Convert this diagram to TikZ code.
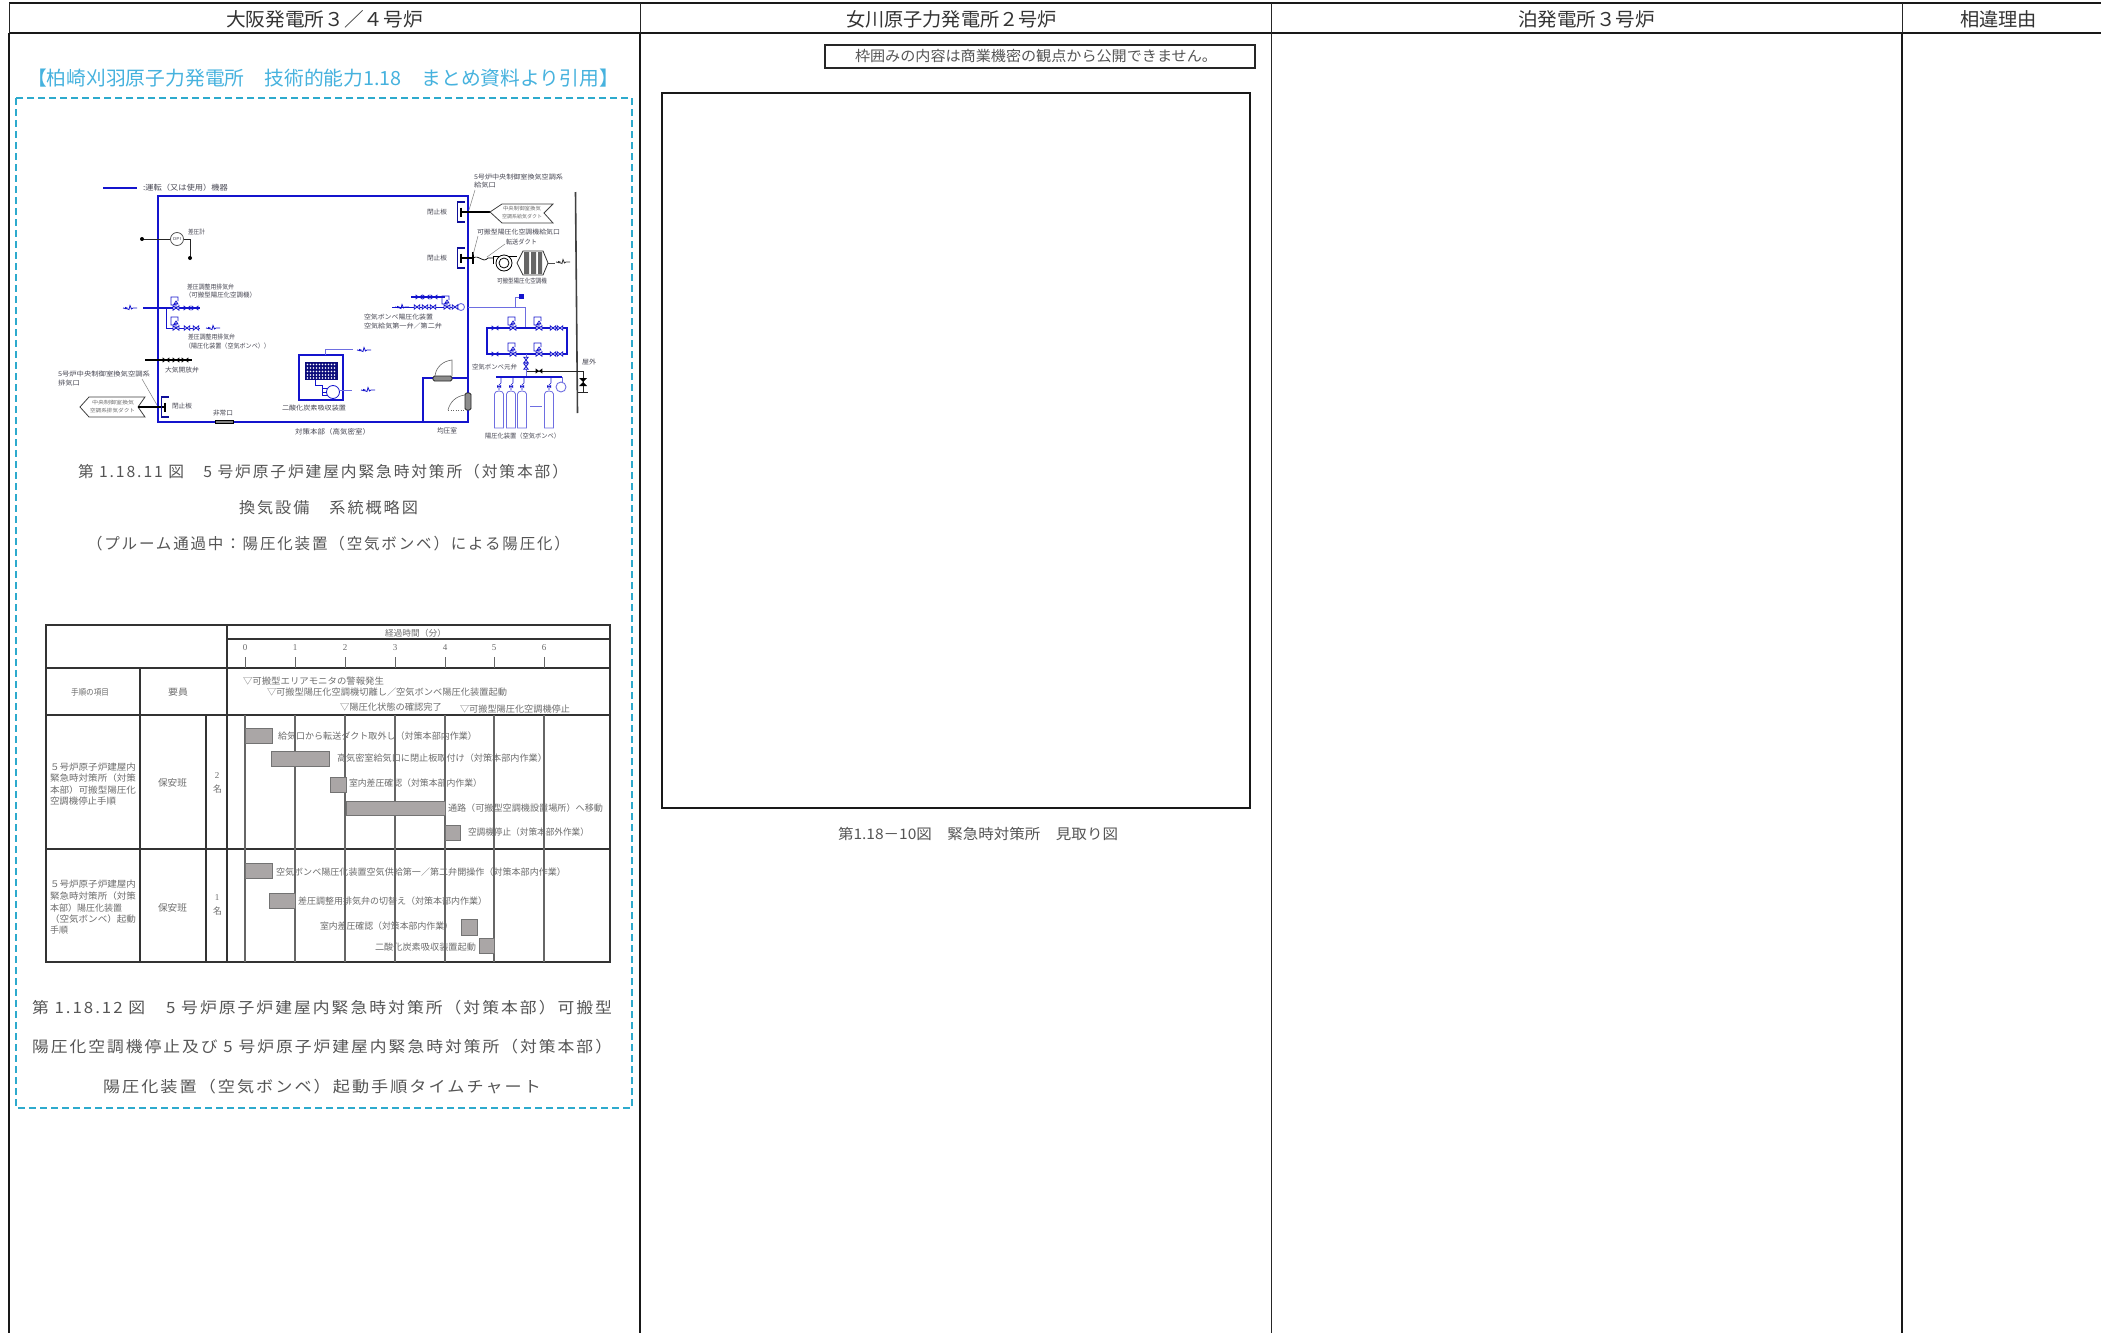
\documentclass[tikz,border=0pt]{standalone}
\usepackage{fontspec}
\usepackage{graphicx}
\setmainfont{Noto Sans CJK JP}
\newfontfamily\latf{Liberation Serif}
\definecolor{vblue}{RGB}{20,20,205}
\definecolor{lblue}{RGB}{110,110,225}
\definecolor{cyant}{RGB}{70,178,222}
\definecolor{cyand}{RGB}{45,170,205}
\definecolor{barf}{RGB}{170,166,166}
\definecolor{capt}{RGB}{85,85,85}
\definecolor{tinyc}{RGB}{108,108,108}
\definecolor{schem}{RGB}{70,70,82}
\newcount\tcnt
% colour, x1, x2, y, size, text : text fitted between x1 and x2 around height y
\newcommand\tx[6][capt]{\global\advance\tcnt by 1
  \node[txtbox,text=#1] (t\the\tcnt) at (#2,#4) {\resizebox{\dimexpr #3pt-#2pt\relax}{\height}{\fontsize{#5}{#5}\selectfont #6}};}
\newcommand\lsp{\addfontfeature{LetterSpace=12}}
\tikzset{
  txtbox/.style={anchor=west,inner sep=0pt,outer sep=0pt},
  tline/.style={line width=1.4pt,color=black!80},
  gridthick/.style={line width=2.2pt,color=black!90},
  gridthin/.style={line width=1pt,color=black!85},
  tickl/.style={line width=1pt,color=black!60},
  bar/.style={fill=barf,draw=black!55,line width=0.7pt},
  vb/.style={vblue,line width=1.2pt},
  vbl/.style={lblue,line width=0.9pt},
  wall/.style={vblue,line width=1.9pt},
  blk/.style={black!85,line width=0.9pt},
  lead/.style={black!50,line width=0.5pt},
  bowf/.pic={\fill[pic actions] (-3.4,-2.6)--(3.4,2.6)--(3.4,-2.6)--(-3.4,2.6)--cycle;},
  bowo/.pic={\filldraw[fill=white,draw=vblue,line width=0.8pt] (-2.8,-2.2)--(2.8,2.2)--(2.8,-2.2)--(-2.8,2.2)--cycle;},
  bowv/.pic={\filldraw[fill=white,draw=vblue,line width=0.8pt] (-2.2,-2.8)--(2.2,2.8)--(-2.2,2.8)--(2.2,-2.8)--cycle;},
  actv/.pic={\filldraw[fill=white,draw=vblue,line width=0.8pt] (-3,-2.2)--(3,2.2)--(3,-2.2)--(-3,2.2)--cycle;
     \draw[vblue,line width=0.7pt] (0,0)--(0,-5) (-2,-4)--(2,-4)--(0,-7)--cycle (-1,-3)--(-5,-3)--(-5,-11)--(2,-11)--(2,-7);},
  squig/.pic={\draw[pic actions,line width=0.8pt] (-7,0)--(-3,0.8)--(-1,1.5)--(0,-2.5)--(1.5,1)--(3,0)--(7,0);\fill[pic actions] (-5,-1.2)--(-2,0)--(-5,1.2)--cycle;},
  plate/.pic={\draw[vblue!75!black,line width=1.1pt] (3.5,-10)--(-3.5,-10)--(-3.5,10)--(3.5,10);\draw[black,line width=1.1pt] (0,-4.5)--(0,4.5);},
  cyl/.pic={\draw[lblue,line width=0.8pt] (-4.5,38)--(-4.5,4) .. controls (-4.5,0) and (4.5,0) .. (4.5,4)--(4.5,38)--cycle;
    \draw[vblue,line width=0.6pt] (0,0)--(0,-5)--(2,-7)--(2,-13);\fill[vblue] (-2,-5)--(2,-2)--(2,-5)--(-2,-2)--cycle;}
}
\begin{document}
\begin{tikzpicture}[x=1pt,y=-1pt]
\useasboundingbox (0,0) rectangle (2101,1333);
\fill[white] (0,0) rectangle (2101,1333);
% ---- main table
\draw[gridthick] (9,3)--(2101,3);
\draw[gridthick] (9,33)--(2101,33);
\draw[gridthin] (9,3)--(9,33) (640,3)--(640,33) (1271,3)--(1271,33) (1902,3)--(1902,33);
\draw[gridthick,line width=2.5pt] (9,33)--(9,1333);
\draw[gridthick] (640,33)--(640,1333);
\draw[gridthin] (1271,33)--(1271,1333);
\draw[gridthick] (1902,33)--(1902,1333);
\tx[black!80]{226}{423}{19}{19}{大阪発電所３／４号炉}
\tx[black!80]{846}{1057}{19}{19}{女川原子力発電所２号炉}
\tx[black!80]{1518}{1655}{19}{19}{泊発電所３号炉}
\tx[black!80]{1960}{2037}{19}{19}{相違理由}
% ---- cyan quotation
\tx[cyant]{27}{619}{78}{19.5}{【柏崎刈羽原子力発電所　技術的能力1.18　まとめ資料より引用】}
\draw[cyand,line width=1.6pt,dash pattern=on 7pt off 4pt] (16,98) rectangle (632,1108);
% ---- middle column
\draw[black!85,line width=2.6pt] (825,45) rectangle (1255,68);
\tx{855}{1217}{56}{14.5}{枠囲みの内容は商業機密の観点から公開できません。}
\draw[black!90,line width=2.6pt] (662,93) rectangle (1250,808);
\tx{838}{1118}{834}{14.5}{第1.18－10図　緊急時対策所　見取り図}
% ---- captions left
\tx{78}{568}{472}{15.5}{\lsp 第 1.18.11 図　5 号炉原子炉建屋内緊急時対策所（対策本部）}
\tx{239}{418}{508}{15.5}{\lsp 換気設備　系統概略図}
\tx{87}{570}{544}{15.5}{\lsp （プルーム通過中：陽圧化装置（空気ボンベ）による陽圧化）}
\tx{32}{612}{1008}{15.5}{\lsp 第 1.18.12 図　5 号炉原子炉建屋内緊急時対策所（対策本部）可搬型}
\tx{32}{612}{1047}{15.5}{\lsp 陽圧化空調機停止及び 5 号炉原子炉建屋内緊急時対策所（対策本部）}
\tx{103}{541}{1087}{15.5}{\lsp 陽圧化装置（空気ボンベ）起動手順タイムチャート}
% ---- schematic: legend and room
\draw[vblue,line width=1.2pt] (103,188)--(137,188);
\tx[schem]{143}{228}{188}{7.5}{:運転（又は使用）機器}
\draw[wall] (158,196) rectangle (468,422);
\draw[wall] (423,422)--(423,378)--(468,378);
% differential pressure gauge
\draw[blk] (142,239)--(170,239) (184,239)--(190,239)--(190,258);
\fill[black] (142,239) circle (2) (190,258) circle (2);
\draw[black!70,line width=0.7pt,fill=white] (177,239) circle (6.5);
\tx[schem]{173}{181}{239}{4}{DPI}
\tx[schem]{188}{205}{232}{6.5}{差圧計}
% exhaust valves
\draw[vb] (143,308)--(200,308);
\draw[vb,line width=0.8pt] (166,308)--(166,328)--(200,328);
\pic[vblue] at (130,308) {squig};
\pic at (176,308) {actv};\pic at (176,328) {actv};
\pic[vblue] at (187,308) {bowf};\pic[vblue] at (195,308) {bowf};
\pic at (187,328) {bowo};\pic at (196,328) {bowo};
\pic[vblue] at (213,328) {squig};
\tx[schem]{187}{234}{287}{6.5}{差圧調整用排気弁}
\tx[schem]{185}{256}{295}{6.5}{（可搬型陽圧化空調機）}
\tx[schem]{188}{235}{337}{6.5}{差圧調整用排気弁}
\tx[schem]{185}{270}{346}{6.5}{（陽圧化装置（空気ボンベ））}
% atmosphere valve
\draw[black,line width=1.3pt] (145,360)--(192,360);
\pic[black] at (166,360) {bowf};\pic[black] at (176,360) {bowf};\pic[black] at (185,360) {bowf};
\tx[schem]{165}{199}{370}{6.5}{大気開放弁}
% exhaust flag
\tx[schem]{58}{150}{374}{6.5}{5号炉中央制御室換気空調系}
\tx[schem]{58}{80}{383}{6.5}{排気口}
\draw[lead] (142,379)--(157,405);
\draw[black!75,line width=0.8pt] (80,407)--(89,397)--(145,397)--(138,407)--(145,417)--(89,417)--cycle;
\draw[black,line width=1.1pt] (138,407)--(165,407);
\pic at (165,407) {plate};
\tx[tinyc]{92}{134}{403}{5}{中央制御室換気}
\tx[tinyc]{90}{135}{411}{5}{空調系排気ダクト}
\tx[schem]{172}{192}{406}{6.5}{閉止板}
% emergency door
\tx[schem]{213}{233}{413}{6.5}{非常口}
\filldraw[fill=black!50,draw=black,line width=0.8pt] (215,420) rectangle (233,423.5);
\tx[schem]{295}{370}{432}{7}{対策本部（高気密室）}
% CO2 absorber
\draw[vblue,line width=1.4pt] (299,355) rectangle (343,400);
\fill[vblue!60!black] (305,362) rectangle (338,380);
\foreach \yy in {364.5,368,371.5,375,378}{\foreach \xx in {307.5,310.5,...,336}{\fill[white] (\xx,\yy) circle (0.9);}}
\draw[vblue,line width=0.8pt] (315,380)--(315,385)--(322,385)--(322,392)--(326,392);
\draw[vblue,line width=0.8pt] (322,388) rectangle (328,395);
\draw[vblue,line width=0.8pt,fill=white] (333,392) circle (6.5);
\draw[vbl] (325,355)--(325,349)--(353,349);
\pic[vblue] at (364,350) {squig};
\draw[vbl] (339,390)--(352,390);
\pic[vblue] at (368,390) {squig};
\tx[schem]{282}{346}{408}{6.5}{二酸化炭素吸収装置}
% top-right intake
\tx[schem]{474}{563}{177}{6.5}{5号炉中央制御室換気空調系}
\tx[schem]{474}{496}{185}{6.5}{給気口}
\draw[lead] (475,190)--(469,210);
\pic at (461,212) {plate};
\draw[black,line width=1.1pt] (461,212)--(490,212);
\tx[schem]{427}{447}{212}{6.5}{閉止板}
\draw[black!75,line width=0.8pt] (490,212)--(502,204)--(553,204)--(544,213)--(553,223)--(502,223)--cycle;
\tx[tinyc]{503}{541}{209}{5}{中央制御室換気}
\tx[tinyc]{502}{542}{217}{5}{空調系給気ダクト}
% portable unit
\pic at (461,258) {plate};
\draw[black,line width=1.1pt] (461,258)--(473,258) (473,252)--(473,264);
\tx[schem]{427}{447}{258}{6.5}{閉止板}
\tx[schem]{477}{560}{232}{6.5}{可搬型陽圧化空調機給気口}
\draw[lead] (478,236)--(473,255);
\tx[schem]{506}{537}{242}{6.5}{転送ダクト}
\draw[lead] (505,244)--(487,257);
\draw[black,line width=0.7pt] (473,258) .. controls (480,254) and (482,264) .. (488,258) -- (493,258);
\draw[black,line width=0.9pt] (493,264)--(493,256)--(517,256);
\draw[black,line width=0.8pt,fill=white] (504,263) circle (8) (504,263) circle (5);
\filldraw[fill=white,draw=black!80,line width=0.8pt] (517,263)--(523,251)--(543,251)--(548,263)--(543,275)--(523,275)--cycle;
\fill[black!60] (524,252) rectangle (529,274) (531,252) rectangle (536,274) (538,252) rectangle (542,274);
\draw[black!70,line width=0.7pt] (548,263)--(555,263);
\pic[black!80] at (563,262) {squig};
\tx[schem]{497}{547}{281}{6.5}{可搬型陽圧化空調機}
% outdoor divider
\draw[black!75,line width=1.6pt] (575.5,192)--(577.5,413);
\tx[schem]{582}{596}{362}{6.5}{屋外}
\draw[blk] (526,371)--(583,371)--(583,392) (578,392)--(588,392);
\pic[black] at (539,371) {bowf};
\fill[black] (579,378)--(587,378)--(579,386)--(587,386)--cycle;
% air supply
\draw[vbl] (468,307)--(525,307)--(525,328);
\draw[vbl] (515,307)--(515,297)--(522,297);
\fill[vblue] (519,294) rectangle (524,299);
\draw[vbl,fill=white] (461,307) circle (3.5);
\draw[vb,line width=0.7pt] (392,307)--(457,307);
\draw[vb] (411,297)--(445,297);
\pic[vblue] at (419,297) {bowf};\pic[vblue] at (426,297) {bowf};\pic[vblue] at (434,297) {bowf};
\pic at (417,307) {bowo};\pic at (425,307) {bowo};\pic at (433,307) {bowo};
\pic at (447,307) {actv};\pic at (455,307) {bowo};
\pic[vblue] at (402,307) {squig};
\tx[schem]{364}{433}{317}{6.5}{空気ボンベ陽圧化装置}
\tx[schem]{364}{442}{326}{6.5}{空気給気第一弁／第二弁}
% manifold
\draw[vb] (495,328)--(487,328)--(487,354)--(567,354)--(567,328)--(495,328);
\foreach \yy in {328,354}{
  \pic[vblue] at (495,\yy) {bowf};\pic at (513,\yy) {actv};\pic at (539,\yy) {actv};
  \pic at (553,\yy) {bowo};\pic at (560,\yy) {bowo};}
\draw[vbl] (526,354)--(526,377);
\pic at (526,360) {bowv};\pic at (526,366.5) {bowv};
\tx[schem]{472}{517}{367}{6.5}{空気ボンベ元弁}
\draw[vb] (496,377)--(562,377);
\draw[vbl] (562,377)--(562,382);
\draw[vbl,fill=white] (561,387) circle (5);
\foreach \xx in {499,511,522,549}{\pic at (\xx,390) {cyl};}
\draw[vbl] (530,406)--(542,406);
\tx[schem]{485}{560}{436}{6.5}{陽圧化装置（空気ボンベ）}
% pressure chamber doors
\filldraw[fill=black!45,draw=black!85,line width=0.9pt,rounded corners=1.5pt] (433,376) rectangle (452,381);
\draw[black!60,line width=0.6pt] (435,376) .. controls (436,367) and (443,361) .. (452,360)--(452,376);
\filldraw[fill=black!45,draw=black!85,line width=0.9pt,rounded corners=1.5pt] (465,393) rectangle (471,410);
\draw[black!60,line width=0.6pt] (465,395) .. controls (456,396) and (450,402) .. (448,410);
\draw[black!60,line width=0.5pt,dotted] (448,410)--(465,410);
\tx[schem]{437}{457}{431}{7}{均圧室}
% ---- time chart
\draw[tline] (46,625) rectangle (610,962);
\draw[tline] (227,639)--(610,639);
\draw[tline] (46,668)--(610,668);
\draw[tline] (46,715)--(610,715);
\draw[tline] (46,849)--(610,849);
\draw[tline] (140,668)--(140,962);
\draw[tline] (206,715)--(206,962);
\draw[tline] (227,625)--(227,962);
\foreach \xx/\nn in {245/0,295/1,345/2,395/3,445/4,494/5,544/6}{
  \draw[tickl] (\xx,657)--(\xx,668);
  \draw[tickl,line width=1.2pt] (\xx,715)--(\xx,962);
  \node[text=tinyc,inner sep=0pt,font=\fontsize{9}{9}\selectfont\latf] (h\nn) at (\xx,648) {\nn};
}
\tx[tinyc]{385}{446}{633}{8.5}{経過時間（分）}
\tx[tinyc]{243}{384}{681}{9}{▽可搬型エリアモニタの警報発生}
\tx[tinyc]{267}{507}{692}{9}{▽可搬型陽圧化空調機切離し／空気ボンベ陽圧化装置起動}
\tx[tinyc]{340}{442}{707}{9}{▽陽圧化状態の確認完了}
\tx[tinyc]{460}{570}{709}{9}{▽可搬型陽圧化空調機停止}
\tx[tinyc]{71}{109}{692}{8.5}{手順の項目}
\tx[tinyc]{168}{188}{692}{9}{要員}
\tx[tinyc]{50}{136}{767}{9}{５号炉原子炉建屋内}
\tx[tinyc]{50}{136}{778}{9}{緊急時対策所（対策}
\tx[tinyc]{50}{136}{790}{9}{本部）可搬型陽圧化}
\tx[tinyc]{50}{116}{801}{9}{空調機停止手順}
\tx[tinyc]{158}{187}{783}{9.5}{保安班}
\node[text=tinyc,inner sep=0pt,font=\fontsize{9}{9}\selectfont\latf] (n2) at (217,776) {2};
\tx[tinyc]{213}{222}{789}{9}{名}
\tx[tinyc]{50}{136}{884}{9}{５号炉原子炉建屋内}
\tx[tinyc]{50}{136}{896}{9}{緊急時対策所（対策}
\tx[tinyc]{50}{122}{908}{9}{本部）陽圧化装置}
\tx[tinyc]{50}{136}{919}{9}{（空気ボンベ）起動}
\tx[tinyc]{50}{68}{930}{9}{手順}
\tx[tinyc]{158}{187}{908}{9.5}{保安班}
\node[text=tinyc,inner sep=0pt,font=\fontsize{9}{9}\selectfont\latf] (n1) at (217,898) {1};
\tx[tinyc]{213}{222}{911}{9}{名}
% bars
\path[bar] (245,728) rectangle (272,743);
\path[bar] (271,751) rectangle (329,766);
\path[bar] (330,777) rectangle (346,792);
\path[bar] (346,801) rectangle (445,815);
\path[bar] (445,825) rectangle (460,840);
\path[bar] (245,863) rectangle (272,878);
\path[bar] (269,893) rectangle (295,908);
\path[bar] (461,919) rectangle (477,935);
\path[bar] (479,938) rectangle (494,953);
\tx[tinyc]{278}{477}{736}{9}{給気口から転送ダクト取外し（対策本部内作業）}
\tx[tinyc]{337}{547}{758}{9}{高気密室給気口に閉止板取付け（対策本部内作業）}
\tx[tinyc]{349}{482}{783}{9}{室内差圧確認（対策本部内作業）}
\tx[tinyc]{448}{603}{808}{9}{通路（可搬型空調機設置場所）へ移動}
\tx[tinyc]{468}{589}{832}{9}{空調機停止（対策本部外作業）}
\tx[tinyc]{276}{566}{872}{9}{空気ボンベ陽圧化装置空気供給第一／第二弁開操作（対策本部内作業）}
\tx[tinyc]{298}{487}{901}{9}{差圧調整用排気弁の切替え（対策本部内作業）}
\tx[tinyc]{320}{453}{926}{9}{室内差圧確認（対策本部内作業）}
\tx[tinyc]{375}{476}{947}{9}{二酸化炭素吸収装置起動}
\end{tikzpicture}
\end{document}
